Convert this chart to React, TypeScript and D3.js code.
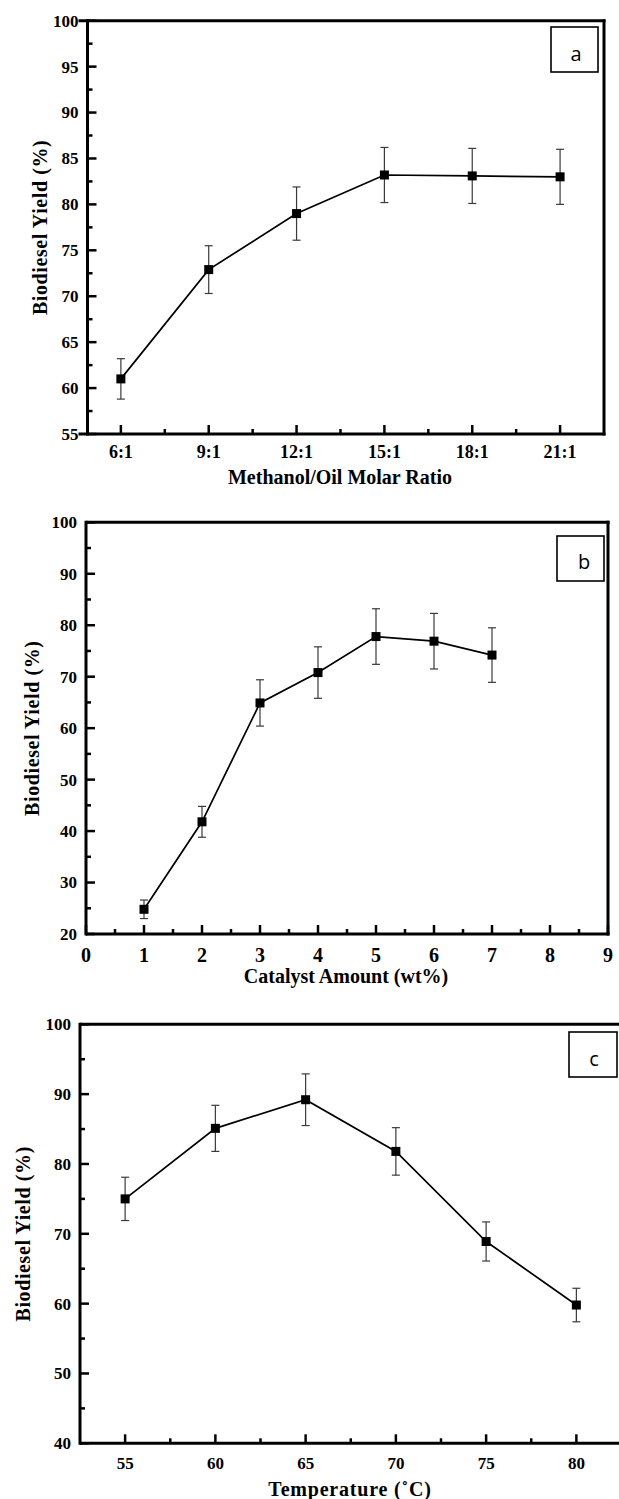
import React from "react";
import * as d3 from "d3";

// ---------- data ----------
const ratioValues = [6, 9, 12, 15, 18, 21];
const ratioLabels = ["6:1", "9:1", "12:1", "15:1", "18:1", "21:1"];
const yieldA = [61.0, 72.9, 79.0, 83.2, 83.1, 83.0];
const errA = [2.2, 2.6, 2.9, 3.0, 3.0, 3.0];
const yTicksA = [55, 60, 65, 70, 75, 80, 85, 90, 95, 100];
const yMinorA = [57.5, 62.5, 67.5, 72.5, 77.5, 82.5, 87.5, 92.5, 97.5];
const xMinorA = [7.5, 10.5, 13.5, 16.5, 19.5];

const catalystAmount = [1, 2, 3, 4, 5, 6, 7];
const yieldB = [24.8, 41.8, 64.9, 70.8, 77.8, 76.9, 74.2];
const errB = [1.8, 3.0, 4.5, 5.0, 5.4, 5.4, 5.3];
const xTicksB = [0, 1, 2, 3, 4, 5, 6, 7, 8, 9];
const xMinorB = [0.5, 1.5, 2.5, 3.5, 4.5, 5.5, 6.5, 7.5, 8.5];
const yTicksB = [20, 30, 40, 50, 60, 70, 80, 90, 100];
const yMinorB = [25, 35, 45, 55, 65, 75, 85, 95];

const temperature = [55, 60, 65, 70, 75, 80];
const yieldC = [75.0, 85.1, 89.2, 81.8, 68.9, 59.8];
const errC = [3.1, 3.3, 3.7, 3.4, 2.8, 2.4];
const yTicksC = [40, 50, 60, 70, 80, 90, 100];
const yMinorC = [45, 55, 65, 75, 85, 95];
const xMinorC = [57.5, 62.5, 67.5, 72.5, 77.5];

const SERIF = "'Liberation Serif', 'Times New Roman', serif";
const SANS = "'Open Sans', 'Liberation Sans', sans-serif";

type PanelProps = {
  xs: number[];
  ys: number[];
  errs: number[];
  xDomain: [number, number];
  xRange: [number, number];
  yDomain: [number, number];
  yRange: [number, number];
  xTicks: number[];
  xTickLabels: string[];
  xMinor: number[];
  yTicks: number[];
  yMinor: number[];
  xTitle: string;
  xTitlePos: [number, number];
  yTitleX: number;
  xTickFont: number;
  xTickY: number;
  yTickFont: number;
  letter: string;
  box: [number, number, number, number];
  letterPos: [number, number];
  extendFrame?: boolean;
  xTitleSpacing?: number;
};

function Panel(p: PanelProps) {
  const x = d3.scaleLinear().domain(p.xDomain).range(p.xRange);
  const y = d3.scaleLinear().domain(p.yDomain).range(p.yRange);
  const [L, R] = p.xRange;
  const [B, T] = p.yRange;
  const pts: [number, number][] = p.xs.map((v, i) => [x(v), y(p.ys[i])]);
  const line = d3.line()(pts) || "";
  const ext = p.extendFrame ? 9 : 0;
  const ms = 9;
  const cap = 4;
  return (
    <g>
      {/* line */}
      <path d={line} fill="none" stroke="#000" strokeWidth={1.7} />
      {/* error bars */}
      {p.xs.map((v, i) => {
        const cx = x(v);
        const y1 = y(p.ys[i] + p.errs[i]);
        const y2 = y(p.ys[i] - p.errs[i]);
        return (
          <g key={"e" + i} stroke="#3a3a3a" strokeWidth={1.2}>
            <line x1={cx} x2={cx} y1={y1} y2={y2} />
            <line x1={cx - cap} x2={cx + cap} y1={y1} y2={y1} />
            <line x1={cx - cap} x2={cx + cap} y1={y2} y2={y2} />
          </g>
        );
      })}
      {/* markers */}
      {pts.map(([cx, cy], i) => (
        <rect key={"m" + i} x={cx - ms / 2} y={cy - ms / 2} width={ms} height={ms} fill="#000" />
      ))}
      {/* frame */}
      <g stroke="#000" strokeWidth={3} fill="none">
        <line x1={L - ext} x2={R + 1.5} y1={T} y2={T} />
        <line x1={L - ext} x2={R + 1.5} y1={B} y2={B} />
        <line x1={L} x2={L} y1={T - 1.5} y2={B + 1.5} />
        <line x1={R} x2={R} y1={T - 1.5} y2={B + 1.5} />
      </g>
      {/* y ticks */}
      <g stroke="#000" strokeWidth={2.5}>
        {p.yTicks.map((t) => (
          <line key={"yt" + t} x1={L} x2={L + 9} y1={y(t)} y2={y(t)} />
        ))}
        {p.yMinor.map((t) => (
          <line key={"ym" + t} x1={L} x2={L + 5} y1={y(t)} y2={y(t)} />
        ))}
        {p.xTicks.map((t) => (
          <line key={"xt" + t} x1={x(t)} x2={x(t)} y1={B} y2={B - 9} />
        ))}
        {p.xMinor.map((t) => (
          <line key={"xm" + t} x1={x(t)} x2={x(t)} y1={B} y2={B - 5} />
        ))}
      </g>
      {/* y tick labels */}
      <g fontFamily={SERIF} fontWeight="bold" fontSize={p.yTickFont} textAnchor="end">
        {p.yTicks.map((t) => (
          <text key={"yl" + t} x={L - 9} y={y(t)} dy="0.35em">
            {t}
          </text>
        ))}
      </g>
      {/* x tick labels */}
      <g fontFamily={SERIF} fontWeight="bold" fontSize={p.xTickFont} textAnchor="middle">
        {p.xTicks.map((t, i) => (
          <text key={"xl" + t} x={x(t)} y={p.xTickY} dy="0.35em">
            {p.xTickLabels[i]}
          </text>
        ))}
      </g>
      {/* titles */}
      <text
        x={p.xTitlePos[0]}
        y={p.xTitlePos[1]}
        dy="0.35em"
        textAnchor="middle"
        fontFamily={SERIF}
        fontWeight="bold"
        fontSize={20}
        letterSpacing={p.xTitleSpacing || 0}
      >
        {p.xTitle}
      </text>
      <text
        transform={`translate(${p.yTitleX},${(T + B) / 2}) rotate(-90)`}
        dy="0.35em"
        textAnchor="middle"
        fontFamily={SERIF}
        fontWeight="bold"
        fontSize={20}
        letterSpacing={0.6}
      >
        Biodiesel Yield (%)
      </text>
      {/* panel letter box */}
      <rect
        x={p.box[0]}
        y={p.box[1]}
        width={p.box[2] - p.box[0]}
        height={p.box[3] - p.box[1]}
        fill="#fff"
        stroke="#000"
        strokeWidth={1.6}
      />
      <text x={p.letterPos[0]} y={p.letterPos[1]} dy="0.35em" textAnchor="middle" fontFamily={SANS} fontSize={20}>
        {p.letter}
      </text>
    </g>
  );
}

export default function App() {
  return (
    <div style={{ position: "absolute", left: 0, top: 0 }}>
      <svg width={619} height={1499} viewBox="0 0 619 1499" style={{ display: "block", background: "#fff" }}>
        <Panel
          xs={ratioValues}
          ys={yieldA}
          errs={errA}
          xDomain={[4.86, 22.5]}
          xRange={[87.5, 604]}
          yDomain={[55, 100]}
          yRange={[434, 20.7]}
          xTicks={ratioValues}
          xTickLabels={ratioLabels}
          xMinor={xMinorA}
          yTicks={yTicksA}
          yMinor={yMinorA}
          xTitle="Methanol/Oil Molar Ratio"
          xTitlePos={[340, 477]}
          yTitleX={40}
          xTickFont={18}
          xTickY={452}
          yTickFont={17}
          letter="a"
          box={[551, 27, 598, 72]}
          letterPos={[576, 54]}
          extendFrame={true}
        />
        <Panel
          xs={catalystAmount}
          ys={yieldB}
          errs={errB}
          xDomain={[0, 9]}
          xRange={[86, 608]}
          yDomain={[20, 100]}
          yRange={[934, 522.3]}
          xTicks={xTicksB}
          xTickLabels={xTicksB.map(String)}
          xMinor={xMinorB}
          yTicks={yTicksB}
          yMinor={yMinorB}
          xTitle="Catalyst Amount (wt%)"
          xTitlePos={[346, 976]}
          yTitleX={32}
          xTickFont={20}
          xTickY={955}
          yTickFont={17}
          letter="b"
          box={[557, 536, 604, 581]}
          letterPos={[584, 562]}
        />
        <Panel
          xs={temperature}
          ys={yieldC}
          errs={errC}
          xDomain={[52.5, 82.5]}
          xRange={[80, 621.5]}
          yDomain={[40, 100]}
          yRange={[1443.3, 1024.3]}
          xTicks={temperature}
          xTickLabels={temperature.map(String)}
          xMinor={xMinorC}
          yTicks={yTicksC}
          yMinor={yMinorC}
          xTitle="Temperature (˚C)"
          xTitlePos={[350, 1489]}
          yTitleX={23}
          xTickFont={17}
          xTickY={1463}
          yTickFont={17}
          letter="c"
          box={[569, 1032, 617, 1077]}
          letterPos={[594, 1059]}
          xTitleSpacing={0.8}
        />
      </svg>
    </div>
  );
}
